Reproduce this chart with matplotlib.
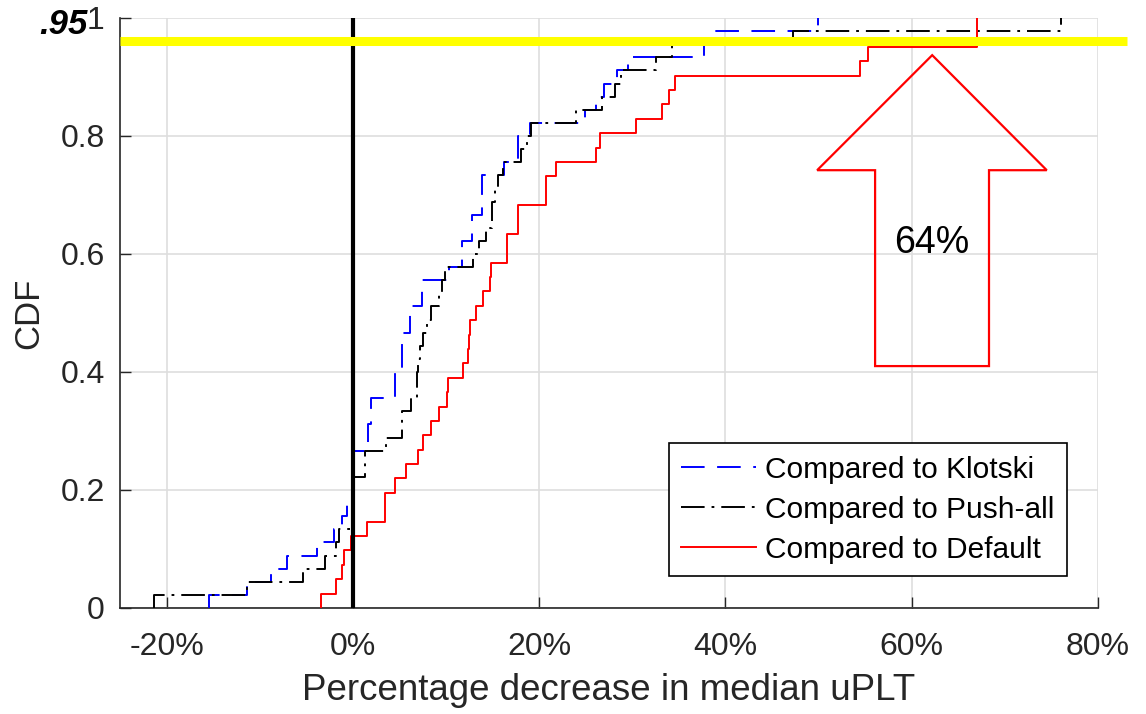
import matplotlib
matplotlib.use("Agg")
import matplotlib.pyplot as plt
import numpy as np
from matplotlib.patches import Polygon

# ---------------- data (percentage decrease in median uPLT, one value per site) ----------------
klotski = [-15.4, -11.4, -8.8, -7.1, -3.9, -2.0, -1.2, -0.6,
           -0.1, 0.0, 0.0, 0.1,
           1.6, 1.6, 2.0, 2.0,
           4.5, 4.5, 5.3, 5.3, 5.3,
           6.1, 6.1, 7.4, 7.4,
           10.3, 11.7, 11.7, 12.8, 12.8,
           13.9, 13.9, 13.9, 16.2, 17.7, 17.7, 19.0,
           24.9, 26.1, 27.0, 28.4, 29.5,
           37.7, 38.5, 49.9]

pushall = [-21.4, -11.4, -5.4, -3.0, -1.8, -1.5,
           -0.1, 0.0, 0.0, 0.1,
           1.3, 1.3, 3.6, 5.3, 5.3, 6.2, 6.9, 6.9,
           7.0, 7.2, 7.5, 8.0, 8.4, 9.2, 9.6, 9.9,
           12.9, 13.5, 14.3, 14.9, 14.9, 15.3, 15.6, 16.1,
           18.1, 18.7, 19.1,
           24.0, 26.7, 28.1, 28.8, 32.5, 34.3, 47.3, 76.0]

default = [-3.4, -1.8, -1.2, -1.0, -0.2,
           1.5, 3.4, 3.4, 4.5, 5.7,
           7.0, 7.5, 8.4, 9.2, 10.1, 10.2,
           11.8, 12.4, 12.5, 12.6,
           13.2, 14.0, 14.7, 14.8,
           16.5, 16.5, 17.7, 17.7,
           20.7, 20.7, 21.8,
           26.1, 26.5, 30.4,
           33.2, 33.9, 34.6,
           54.4, 55.3, 67.0, 67.0]

series_labels = ["Compared to Klotski", "Compared to Push-all", "Compared to Default"]

xticks = [-20, 0, 20, 40, 60, 80]
xtick_labels = ["-20%", "0%", "20%", "40%", "60%", "80%"]
yticks = [0, 0.2, 0.4, 0.6, 0.8, 1.0]
ytick_labels = ["0", "0.2", "0.4", "0.6", "0.8", "1"]

threshold = 0.961
threshold_label = ".95"
arrow_label = "64%"
xlabel = "Percentage decrease in median uPLT"
ylabel = "CDF"

# ---------------- style ----------------
plt.rcParams["font.family"] = ["Liberation Sans", "DejaVu Sans"]
plt.rcParams["lines.scale_dashes"] = False


def ecdf(vals):
    x = np.sort(np.asarray(vals, dtype=float))
    n = len(x)
    xs = np.concatenate([[x[0]], x])
    ys = np.concatenate([[0.0], np.arange(1, n + 1) / n])
    return xs, ys


fig = plt.figure(figsize=(11.46, 7.14), dpi=100)
ax = fig.add_axes([0.1047, 0.1485, 0.8534, 0.8263])

styles = [
    dict(color="#0000ff", linestyle=(0, (17, 9)), lw=1.4),
    dict(color="#000000", linestyle=(0, (17, 5, 2, 5)), lw=1.4),
    dict(color="#ff0000", linestyle="-", lw=1.4),
]
handles = []
for vals, lab, st in zip([klotski, pushall, default], series_labels, styles):
    xs, ys = ecdf(vals)
    h, = ax.plot(xs, ys, drawstyle="steps-post", label=lab, zorder=3, **st)
    handles.append(h)

# vertical zero line
ax.axvline(0, color="black", lw=3, zorder=4)

ax.set_xlim(-25, 80)
ax.set_ylim(0, 1)
ax.set_xticks(xticks)
ax.set_xticklabels(xtick_labels)
ax.set_yticks(yticks)
ax.set_yticklabels(ytick_labels)
ax.grid(True, color="#dedede", lw=1.2, zorder=0)
ax.set_axisbelow(True)
for s in ["top", "right"]:
    ax.spines[s].set_visible(False)
for s in ["left", "bottom"]:
    ax.spines[s].set_color("#262626")
    ax.spines[s].set_linewidth(1.2)
ax.tick_params(axis="both", direction="in", length=8, width=1, colors="#262626",
               labelsize=23, labelcolor="#262626")
ax.tick_params(axis="x", pad=17)
ax.tick_params(axis="y", pad=11)
ax.set_xlabel(xlabel, fontsize=26.5, color="#262626", labelpad=8)
ax.set_ylabel(ylabel, fontsize=25, color="#262626", labelpad=11)

# legend
leg = ax.legend(handles=handles, loc="lower right", bbox_to_anchor=(0.968, 0.054),
                borderaxespad=0, fontsize=21.5, frameon=True, fancybox=False,
                framealpha=1, edgecolor="black", handlelength=2.5,
                handletextpad=0.3, labelspacing=0.4, borderpad=0.42)
leg.get_frame().set_linewidth(1.2)
leg.set_zorder(6)

# yellow threshold line
ax.plot([0, 1.03], [threshold, threshold], transform=ax.get_yaxis_transform(),
        color="#ffff00", lw=6.5, clip_on=False, zorder=7, solid_capstyle="butt")
fig.text(63 / 1146, 1 - 25 / 714, threshold_label, fontsize=25, fontweight="bold",
         fontstyle="italic", ha="center", va="center", color="black")

# red outlined up-arrow with label
arrow_pts = [(62.2, 0.937), (74.5, 0.742), (68.3, 0.742), (68.3, 0.41),
             (56.07, 0.41), (56.07, 0.742), (49.85, 0.742)]
ax.add_patch(Polygon(arrow_pts, closed=True, facecolor="none", edgecolor="#ff0000",
                     lw=1.6, zorder=5, clip_on=False))
ax.text(62.1, 0.619, arrow_label, fontsize=27, ha="center", va="center", color="black",
        zorder=6)

fig.savefig("out.png", dpi=100)
